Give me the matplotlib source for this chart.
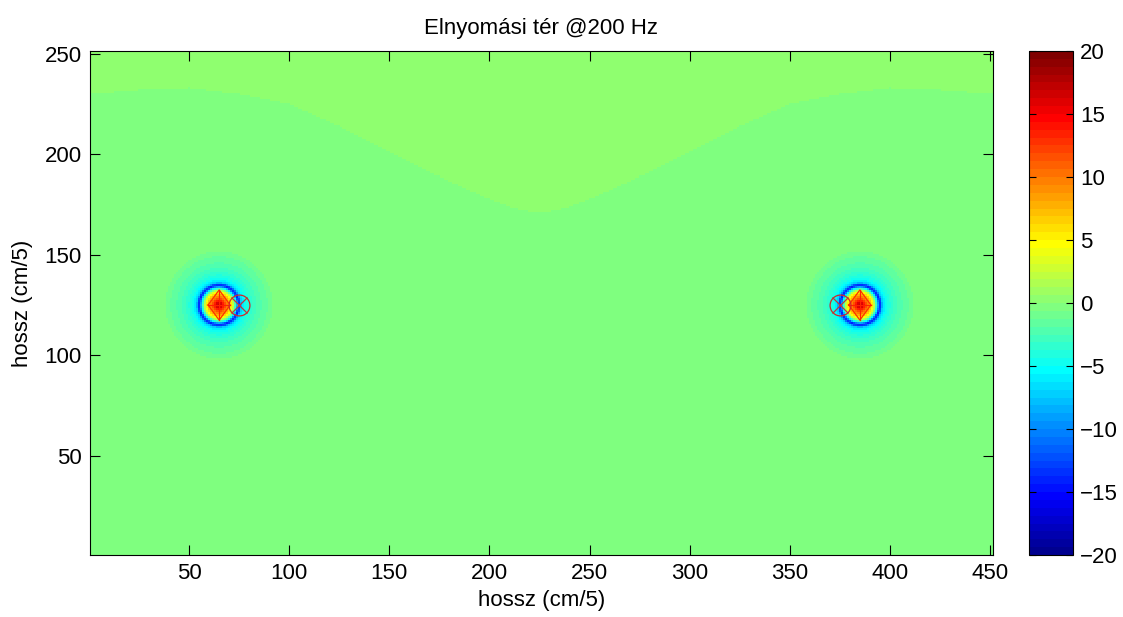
import numpy as np
import matplotlib
matplotlib.use("Agg")
import matplotlib.pyplot as plt
from matplotlib.colors import ListedColormap

plt.rcParams['font.family'] = ['Liberation Sans', 'DejaVu Sans']

# ---- data ----
title = "Elnyomási tér @200 Hz"
xlabel = "hossz (cm/5)"
ylabel = "hossz (cm/5)"
nx, ny = 451, 251
src_x = [65, 385]
src_y = [125, 125]
mic_x = [75, 375]
mic_y = [125, 125]
# radial profile of each source (units, dB)
prof_r = [0, 1.5, 3.0, 4.5, 6.0, 7.0, 8.0, 9.0, 9.7, 10.4, 11.2, 13.0, 16.0, 20.0, 24.0, 28.0]
prof_v = [18, 16, 12, 9, 6, 3, -2, -8, -14, -12, -7, -4.5, -3.0, -1.8, -1.0, 0]
# boundary between the two background levels (x, y)
bnd_x = [0, 25, 50, 75, 100, 125, 150, 175, 200, 212, 225, 238, 250, 275, 300, 325, 350, 375, 400, 425, 451]
bnd_y = [230, 232, 233, 230, 225, 214, 201, 189, 178, 173.5, 171, 173.5, 178, 189, 201, 214, 225, 230, 233, 232, 230]
bg_upper = 0.3
bg_lower = -0.3
clim = (-20, 20)
cticks = [-20, -15, -10, -5, 0, 5, 10, 15, 20]
xticks = [50, 100, 150, 200, 250, 300, 350, 400, 450]
yticks = [50, 100, 150, 200, 250]

# ---- MATLAB jet(64) ----
def matlab_jet(m=64):
    n = int(np.ceil(m / 4))
    u = np.concatenate([np.arange(1, n + 1) / n, np.ones(n - 1), np.arange(n, 0, -1) / n])
    g = int(np.ceil(n / 2)) - (1 if m % 4 == 1 else 0) + np.arange(1, len(u) + 1)
    r = g + n
    b = g - n
    J = np.zeros((m, 3))
    for idx, col in ((r, 0), (g, 1), (b, 2)):
        ok = (idx >= 1) & (idx <= m)
        J[idx[ok] - 1, col] = u[ok]
    return J

cmap = ListedColormap(matlab_jet(64))

# ---- build field ----
X, Y = np.meshgrid(np.arange(1, nx + 1), np.arange(1, ny + 1))
bnd = np.interp(X, bnd_x, bnd_y)
Z = np.where(Y > bnd, bg_upper, bg_lower).astype(float)
for sx, sy in zip(src_x, src_y):
    R = np.hypot(X - sx, Y - sy)
    add = np.interp(R, prof_r, prof_v, right=0)
    Z = np.where(R < prof_r[-1], np.minimum(Z, bg_lower) + add, Z)

fig = plt.figure(figsize=(11.23, 6.17), dpi=100)
ax = fig.add_axes([90 / 1123, 1 - 555 / 617, 903 / 1123, 504 / 617])
cax = fig.add_axes([1029 / 1123, 1 - 555 / 617, 44 / 1123, 504 / 617])

im = ax.imshow(Z, cmap=cmap, vmin=clim[0], vmax=clim[1], origin='lower',
               extent=[0.5, nx + 0.5, 0.5, ny + 0.5], aspect='auto',
               interpolation='nearest')

# source diamonds with cross
for sx, sy in zip(src_x, src_y):
    dx, dy = 5.5, 7.5
    ax.plot([sx - dx, sx, sx + dx, sx, sx - dx], [sy, sy + dy, sy, sy - dy, sy],
            color='#ff3000', lw=0.9)
    ax.plot([sx - dx, sx + dx], [sy, sy], color='#ff2000', lw=0.9)
    ax.plot([sx, sx], [sy - dy, sy + dy], color='#ff2000', lw=0.9)
# microphones
ax.plot(mic_x, mic_y, 'o', mfc='none', mec='#d02828', ms=15, mew=0.9)
ax.plot(mic_x, mic_y, 'x', color='#c03838', ms=11.5, mew=0.9)

ax.set_xlim(0.5, nx + 0.5)
ax.set_ylim(0.5, ny + 0.5)
ax.set_xticks(xticks)
ax.set_yticks(yticks)
ax.tick_params(direction='in', length=7, top=True, right=True, labelsize=16, pad=6)
for s in ax.spines.values():
    s.set_linewidth(0.8)
ax.set_title(title, fontsize=16, pad=12)
ax.set_xlabel(xlabel, fontsize=16, labelpad=4)
ax.set_ylabel(ylabel, fontsize=16, labelpad=8)

cb = fig.colorbar(im, cax=cax, ticks=cticks)
cb.ax.tick_params(direction='in', length=5, left=True, right=True, labelsize=16, pad=5)
cb.outline.set_linewidth(0.8)

fig.savefig('out.png', dpi=100)
